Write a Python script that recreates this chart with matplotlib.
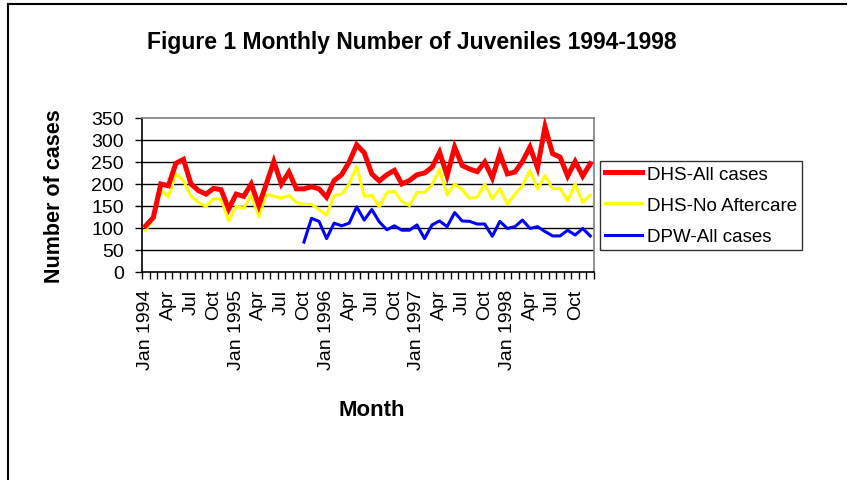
import numpy as np
import matplotlib
matplotlib.use("Agg")
import matplotlib.pyplot as plt
from matplotlib.lines import Line2D

plt.rcParams['font.family'] = ['Liberation Sans', 'DejaVu Sans']

# monthly values, Jan 1994 .. Dec 1998
dhs_all = [105, 124, 200, 196, 247, 256, 200, 185, 177, 190, 187, 143,
           177, 172, 200, 151, 200, 251, 200, 227, 189, 189, 194, 189,
           170, 208, 221, 250, 289, 271, 223, 207, 221, 231, 200, 208,
           221, 225, 238, 272, 219, 284, 242, 234, 228, 250, 214, 269,
           223, 227, 251, 284, 237, 330, 269, 261, 218, 251, 218, 246]
dhs_no_aftercare = [95, 122, 187, 171, 223, 208, 172, 158, 149, 166, 166, 116,
                    149, 145, 175, 126, 177, 172, 168, 174, 158, 154, 154, 142,
                    129, 174, 177, 200, 240, 172, 174, 148, 181, 184, 160, 151,
                    181, 181, 198, 233, 175, 200, 187, 167, 171, 200, 166, 190,
                    154, 177, 196, 231, 189, 219, 189, 190, 162, 200, 158, 175]
dpw_all = [np.nan] * 21 + [68, 122, 115, 76, 111, 105, 111, 148, 118, 142,
                           114, 96, 105, 95, 95, 107, 76, 107, 116, 103,
                           135, 116, 115, 109, 109, 81, 115, 99, 103, 118,
                           99, 103, 92, 82, 82, 95, 84, 99, 82]

tick_labels = ["Jan 1994", "Apr", "Jul", "Oct",
               "Jan 1995", "Apr", "Jul", "Oct",
               "Jan 1996", "Apr", "Jul", "Oct",
               "Jan 1997", "Apr", "Jul", "Oct",
               "Jan 1998", "Apr", "Jul", "Oct"]
yticks = [0, 50, 100, 150, 200, 250, 300, 350]

W, H = 856, 481
fig = plt.figure(figsize=(W / 100, H / 100), dpi=100)
ax = fig.add_axes([142 / W, 1 - 273 / H, (594 - 142) / W, (273 - 119) / H])

x = np.arange(len(dhs_all))
ax.plot(x, dhs_all, color='#ff0000', lw=3.6, solid_joinstyle='miter', zorder=4)
ax.plot(x, dhs_no_aftercare, color='#ffff00', lw=2.2, zorder=3)
ax.plot(x, dpw_all, color='#0000ff', lw=2.2, zorder=3)

ax.set_xlim(-0.5, len(x) - 0.5)
ax.set_ylim(0, 350)
ax.set_yticks(yticks)
ax.set_yticklabels([str(v) for v in yticks], fontsize=14)
for v in yticks[1:-1]:
    ax.axhline(v, color='black', lw=1.0, zorder=1)

ax.set_xticks(np.arange(0, len(x), 3))
ax.set_xticklabels(tick_labels, rotation=90, fontsize=14, va='top')
ax.set_xticks(np.arange(-0.5, len(x), 1), minor=True)
ax.tick_params(axis='x', which='major', length=0, pad=12)
ax.tick_params(axis='x', which='minor', length=5, width=1, direction='out')
ax.tick_params(axis='y', length=5, width=1, direction='out', pad=8)

for s in ['top', 'right']:
    ax.spines[s].set_color('#808080')
    ax.spines[s].set_linewidth(1.2)
for s in ['left', 'bottom']:
    ax.spines[s].set_color('black')
    ax.spines[s].set_linewidth(1.2)

fig.text(412 / W, 1 - 43 / H, "Figure 1 Monthly Number of Juveniles 1994-1998",
         fontsize=16.5, fontweight='bold', ha='center', va='center')
fig.text(55 / W, 1 - 196 / H, "Number of cases", fontsize=15.5,
         fontweight='bold', rotation=90, ha='center', va='center')
fig.text(372 / W, 1 - 411 / H, "Month", fontsize=16, fontweight='bold',
         ha='center', va='center')

handles = [Line2D([], [], color='#ff0000', lw=3.6),
           Line2D([], [], color='#ffff00', lw=2.2),
           Line2D([], [], color='#0000ff', lw=2.2)]
leg = fig.legend(handles, ["DHS-All cases", "DHS-No Aftercare", "DPW-All cases"],
                 loc='upper left', bbox_to_anchor=(600 / W, 1 - 162 / H),
                 fontsize=13.5, frameon=True, fancybox=False, handlelength=2.0,
                 handletextpad=0.25, borderpad=0.25, labelspacing=0.75,
                 borderaxespad=0)
leg.get_frame().set_edgecolor('black')
leg.get_frame().set_linewidth(1.0)

# outer chart frame (top and left edges visible)
fig.add_artist(Line2D([8 / W, 8 / W], [0, 1 - 5 / H], color='black', lw=1.5))
fig.add_artist(Line2D([8 / W, 846 / W], [1 - 5 / H, 1 - 5 / H], color='black', lw=1.5))

fig.savefig("out.png", dpi=100)
